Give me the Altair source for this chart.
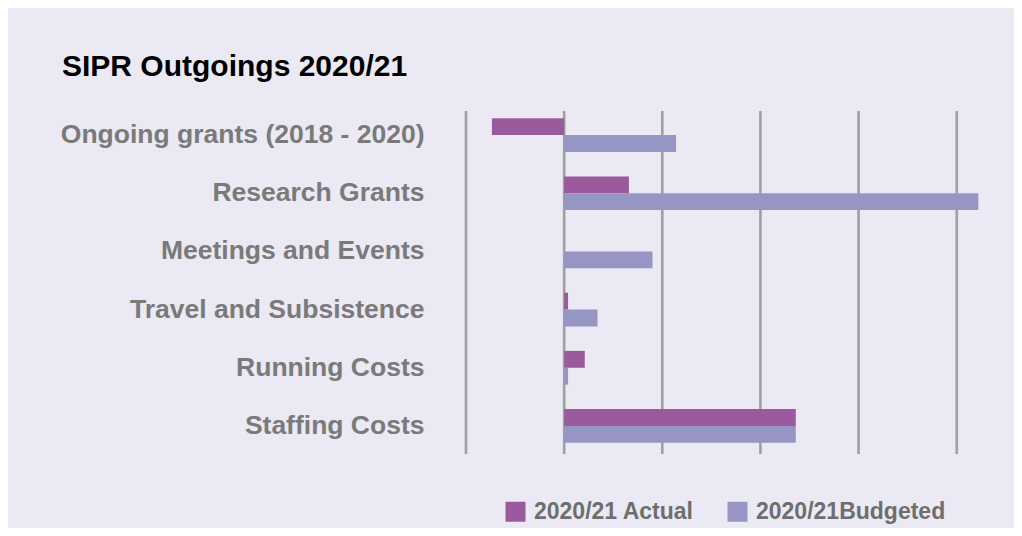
import altair as alt
import pandas as pd

categories = ["Ongoing grants (2018 - 2020)", "Research Grants", "Meetings and Events",
              "Travel and Subsistence", "Running Costs", "Staffing Costs"]
actual = [-36.8, 33, 0, 2, 10.5, 118]
budgeted = [57, 211, 45, 17, 2, 118]
series = ["2020/21 Actual", "2020/21Budgeted"]
colors = ["#9a5a9d", "#9695c3"]
grid_ticks = [-50, 0, 50, 100, 150, 200]

rows = []
for c, a, b in zip(categories, actual, budgeted):
    rows.append({"category": c, "series": series[0], "value": a})
    rows.append({"category": c, "series": series[1], "value": b})
df = pd.DataFrame(rows)
grid_df = pd.DataFrame({"value": grid_ticks})

FONT = "Liberation Sans"
xscale = alt.Scale(domain=[-50, 220], nice=False, zero=False)

grid = alt.Chart(grid_df).mark_rule(color="#a0a0a0", strokeWidth=2.6).encode(
    x=alt.X("value:Q", title=None, scale=xscale, axis=None),
    y=alt.value(5),
    y2=alt.value(348),
)

bars = alt.Chart(df).mark_bar().encode(
    y=alt.Y("category:N", sort=categories, title=None,
            scale=alt.Scale(paddingInner=0.42, paddingOuter=0.21),
            axis=alt.Axis(labelFont=FONT, labelFontSize=26.5, labelFontWeight="bold",
                          labelColor="#7a7a7a", labelPadding=42, ticks=False,
                          domain=False, grid=False, labelLimit=600)),
    yOffset=alt.YOffset("series:N", sort=series),
    x=alt.X("value:Q", title=None, scale=xscale, axis=None),
    color=alt.Color("series:N", sort=series,
                    scale=alt.Scale(domain=series, range=colors),
                    legend=alt.Legend(title=None, orient="none", direction="horizontal",
                                      legendX=38, legendY=394,
                                      symbolType="square", symbolSize=400,
                                      symbolStrokeWidth=0,
                                      labelFont=FONT, labelFontSize=23,
                                      labelFontWeight="bold", labelColor="#6e6e6e",
                                      labelOffset=7, columnPadding=32, labelLimit=400)),
)

chart = alt.layer(grid, bars).properties(
    width=530,
    height=349,
    autosize=alt.AutoSizeParams(type="none"),
    padding={"left": 458, "top": 98, "right": 18, "bottom": 73},
    background="#ebe9f3",
    title=alt.TitleParams("SIPR Outgoings 2020/21", anchor="start", frame="group",
                          dx=-404, offset=24, font=FONT, fontSize=30,
                          fontWeight="bold", color="#000000"),
).configure_view(stroke=None)

chart.save("out.html", embed_options={"renderer": "svg", "actions": False})
